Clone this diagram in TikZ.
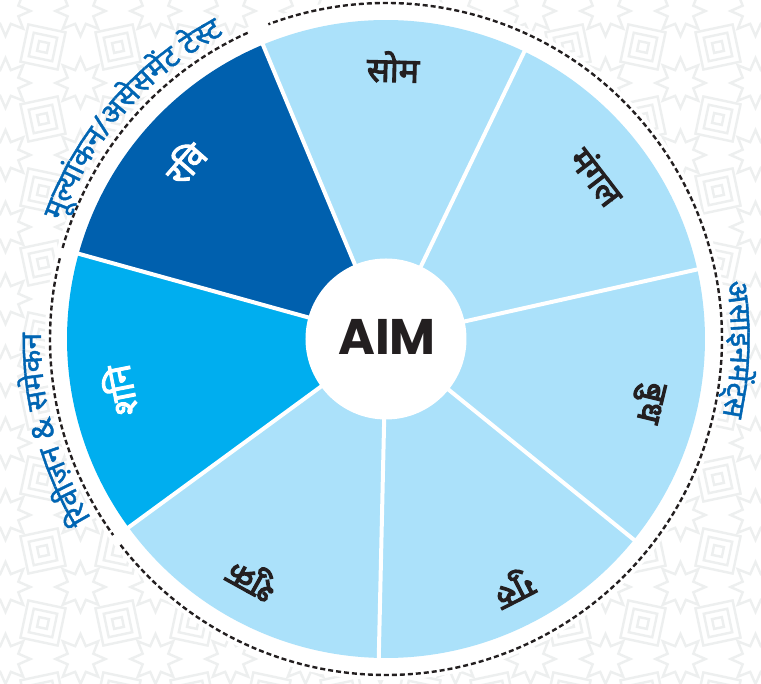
\documentclass[tikz,border=0pt]{standalone}
\usepackage{fontspec}
\newfontfamily\devfont[Script=Devanagari, FakeBold=1.4]{Noto Sans}
\newfontfamily\devbold[Script=Devanagari, FakeBold=3.2]{Noto Sans}
\newfontfamily\aimfont{Poppins}
\usetikzlibrary{shapes.geometric}
\definecolor{lightseg}{HTML}{ABE1FA}
\definecolor{midseg}{HTML}{00AEEF}
\definecolor{darkseg}{HTML}{0060AE}
\definecolor{labelblue}{HTML}{0065B3}
\definecolor{patgray}{HTML}{EDEFEF}
\definecolor{inkblack}{HTML}{231F20}
\newlength\cwid
\newcommand\measurecl[2]{% #1 font, #2 text -> \cwid
  \pgfinterruptpicture\setbox0=\hbox{#1#2}\global\cwid=\wd0\endpgfinterruptpicture}
% #1 radius, #2 start angle, #3 end angle, #4 font, #5 colour, #6 name prefix, #7 clusters
\newcommand\arctextfit[7]{%
  \xdef\totw{0}%
  \foreach \cl in {#7}{%
    \measurecl{#4\fontsize{10}{12}\selectfont}{\cl}%
    \pgfmathsetmacro\tmp{\totw+\cwid}%
    \xdef\totw{\tmp}%
  }%
  \pgfmathsetmacro\fsz{10*#1*((#2-#3)/180*pi)/max(\totw,1)}%
  \xdef\fsz{\fsz}%
  \xdef\curang{#2}%
  \foreach \cl [count=\k] in {#7}{%
    \measurecl{#4\fontsize{\fsz}{\fsz}\selectfont}{\cl}%
    \pgfmathsetmacro\mid{\curang-(\cwid/#1)*90/pi}%
    \node[rotate=\mid-90, anchor=base, inner sep=0pt, text=#5] (#6\k) at (\mid:#1) {#4\fontsize{\fsz}{\fsz}\selectfont\cl};
    \pgfmathsetmacro\tmp{\curang-(\cwid/#1)*180/pi}%
    \xdef\curang{\tmp}%
  }%
}
\begin{document}
\begin{tikzpicture}[x=1pt,y=1pt,
  patline/.style={draw=patgray, line width=2.4pt},
  patstar/.style={star, star points=8, star point ratio=1.8, draw=patgray, line width=2.4pt, minimum size=50pt, inner sep=0pt},
  sepline/.style={draw=white, line width=4pt},
  dashring/.style={draw=inkblack, line width=2.4pt, dash pattern=on 5pt off 3pt},
  seglabel/.style={font=\devbold\fontsize{34}{34}\selectfont, text=inkblack, inner sep=0pt},
  seglabelw/.style={seglabel, text=white}]
\useasboundingbox (-386,-345) rectangle (375,339);
\fill[white] (-386,-345) rectangle (375,339);
% background pattern
\foreach \i in {-6,...,5}{%
  \foreach \j in {-5,...,5}{%
    \pgfmathsetmacro\px{32+75*\i}%
    \pgfmathsetmacro\py{4+72*\j}%
    \pgfmathsetmacro\rot{mod(\i+\j+20,2)==0 ? 12 : -12}%
    \begin{scope}[shift={(\px,\py)}, rotate=\rot]
      \draw[patline] (-19,-19) rectangle (19,19);
      \draw[patline] (-12,-12) rectangle (12,12);
      \draw[patline] (-5,-5) rectangle (5,5);
    \end{scope}
    \node[patstar] (st\i\j) at (\px+37.5,\py+36) {};
  }%
}
% white disk
\fill[white] (0,0) circle[radius=341];
% segments
\fill[lightseg] (0,0) -- (12.6:319) arc[start angle=12.6, end angle=64.3, radius=319] -- cycle;
\fill[lightseg] (0,0) -- (64.3:319) arc[start angle=64.3, end angle=112.7, radius=319] -- cycle;
\fill[darkseg] (0,0) -- (112.7:319) arc[start angle=112.7, end angle=164.5, radius=319] -- cycle;
\fill[midseg] (0,0) -- (164.5:319) arc[start angle=164.5, end angle=216.2, radius=319] -- cycle;
\fill[lightseg] (0,0) -- (216.2:319) arc[start angle=216.2, end angle=268.7, radius=319] -- cycle;
\fill[lightseg] (0,0) -- (268.7:319) arc[start angle=268.7, end angle=321, radius=319] -- cycle;
\fill[lightseg] (0,0) -- (321:319) arc[start angle=321, end angle=372.6, radius=319] -- cycle;
% separators
\foreach \a in {12.6,64.3,112.7,164.5,216.2,268.7,321}{%
  \draw[sepline] (0,0) -- (\a:322);
}
% centre
\node[circle, fill=white, minimum size=161pt, inner sep=0pt] (hub) at (0,0) {};
\node[inner sep=0pt, text=inkblack, font=\aimfont\bfseries\fontsize{50}{50}\selectfont] (aim) at (1,2) {AIM};
% dashed ring
\draw[dashring] (114.3:336) arc[start angle=114.3, end angle=164.3, radius=336];
\draw[dashring] (166.1:336) arc[start angle=166.1, end angle=215.7, radius=336];
\draw[dashring] (217.8:336) arc[start angle=217.8, end angle=470.5, radius=336];
% segment labels
\node[seglabel, rotate=-1.5] (som) at (88.5:272) {सोम};
\node[seglabel, rotate=-52.4] (mangal) at (37.6:267) {मंगल};
\node[seglabel, rotate=-103.5] (budh) at (-13.5:269) {बुध};
\node[seglabel, rotate=-152.9] (guru) at (-62.9:279) {गुरु};
\node[seglabel, rotate=151] (shukra) at (-119:274) {शुक्र};
\node[seglabelw, rotate=101] (shani) at (191:272) {शनि};
\node[seglabelw, rotate=48.8] (ravi) at (138.8:268) {रवि};
% outer arc labels
\arctextfit{345}{160}{118}{\devfont}{labelblue}{tl}{मू,ल्यां,क,न,/,अ,से,स,में,ट,\ ,टे,स्ट}
\arctextfit{345}{211.3}{179}{\devfont}{labelblue}{lf}{रि,वी,ज़,न,\ ,\&,\ ,स,मे,क,न}
\arctextfit{345}{9.5}{-12.9}{\devfont}{labelblue}{rt}{अ,सा,इ,न,में,ट्स}
\end{tikzpicture}
\end{document}
